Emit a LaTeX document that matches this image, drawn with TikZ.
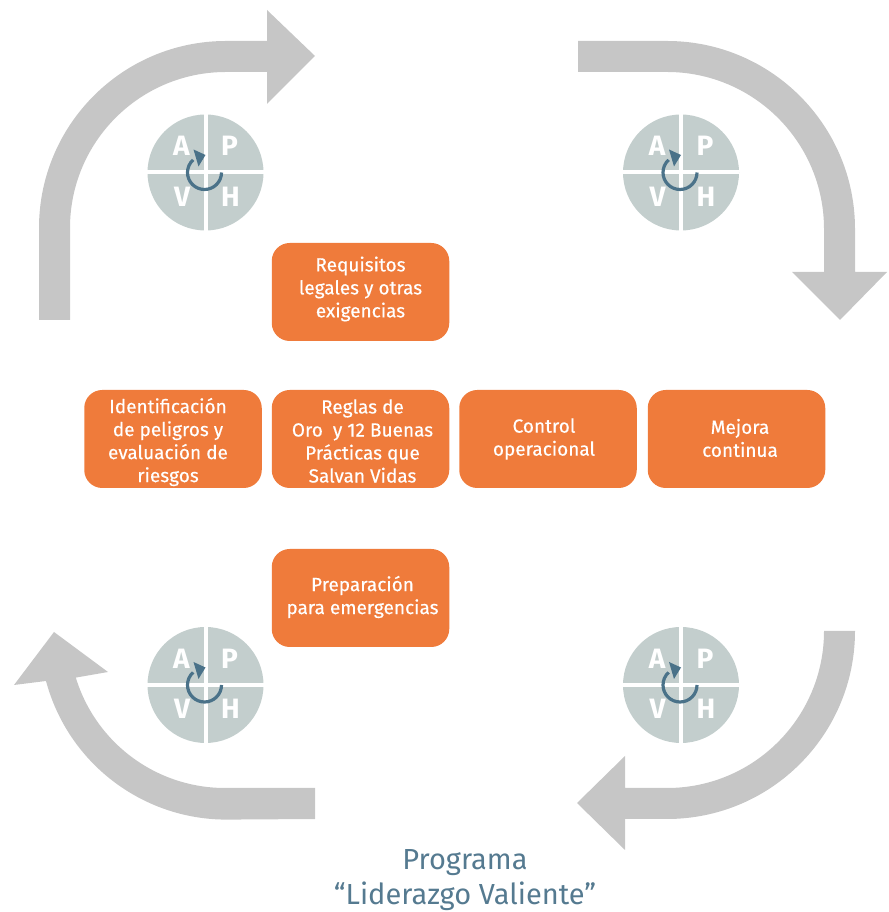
\documentclass[tikz,border=0pt]{standalone}
\usepackage{fontspec}
\setmainfont{Fira Sans}
\newfontfamily\boxfont{Fira Sans}[FakeBold=0.35]
\definecolor{arrowgrey}{HTML}{C6C6C6}
\definecolor{boxorange}{HTML}{EF7B3B}
\definecolor{discgrey}{HTML}{C3CECD}
\definecolor{loopblue}{HTML}{4A7289}
\definecolor{titleblue}{HTML}{557A90}
\tikzset{
  bigarrow/.style={fill=arrowgrey,draw=none},
  orangebox/.style={fill=boxorange,draw=none,rounded corners=18pt,minimum width=177.5pt,minimum height=98pt,inner sep=0pt},
  boxtext/.style={inner sep=0pt,text=white,align=center,font=\boxfont\fontsize{19}{23}\selectfont},
  disc/.style={circle,fill=discgrey,draw=none,minimum size=116pt,inner sep=0pt},
  phvaletter/.style={text=white,font=\fontsize{28}{28}\selectfont\bfseries,inner sep=0pt},
  titletext/.style={text=titleblue,align=center,font=\fontsize{29}{35.5}\selectfont}
}
\newcommand{\phva}[3]{%
  \node[disc] (#1) at (#2,#3) {};
  \fill[white] ([xshift=-2pt]#1.north) rectangle ([xshift=2pt]#1.south);
  \fill[white] ([yshift=2pt]#1.west) rectangle ([yshift=-2pt]#1.east);
  \node[phvaletter] (#1A) at (#2-24,#3+26.5) {A};
  \node[phvaletter] (#1P) at (#2+24,#3+26.5) {P};
  \node[phvaletter] (#1V) at (#2-23.5,#3-24) {V};
  \node[phvaletter] (#1H) at (#2+25,#3-24) {H};
  \draw[loopblue,line width=3.2pt] (#2+16,#3) arc[start angle=0,end angle=-228,radius=17pt];
  \fill[loopblue] (#2-12,#3+23) -- (#2,#3+17.5) -- (#2-7,#3+6) -- cycle;
}
\newcommand{\obox}[6]{%
  \node[orangebox] (#1) at (#2,#3) {};
  \node[boxtext] (#1t) at (#2+#4,#3+#5) {#6};
}
\begin{document}
\begin{tikzpicture}[x=1pt,y=1pt]
\useasboundingbox (0,0) rectangle (888,912);
% top-left arrow
\fill[bigarrow] (39,592) -- (39,684) arc[start angle=180,end angle=90,radius=187pt] -- (267,871) -- (267,902) -- (315,856) -- (267,808) -- (267,840) -- (226,840) arc[start angle=90,end angle=180,radius=156pt] -- (70,592) -- cycle;
% top-right arrow
\fill[bigarrow] (578,871) -- (667,871) arc[start angle=90,end angle=0,radius=188pt] -- (855,640) -- (887,640) -- (840,592) -- (792,640) -- (824,640) -- (824,683) arc[start angle=0,end angle=90,radius=157pt] -- (578,840) -- cycle;
% bottom-right arrow
\fill[bigarrow] (855,281) arc[start angle=0,end angle=-90,radius=188pt] -- (625,93) -- (625,62) -- (577,109) -- (625,156) -- (625,124) -- (667,124) arc[start angle=-90,end angle=0,radius=157pt] -- cycle;
% bottom-left arrow
\fill[bigarrow] (315,124) -- (225,124) arc[start angle=-90,end angle=-163,radius=156pt] -- (108,240) -- (54,280) -- (14,227) -- (46,231) arc[start angle=-165,end angle=-90,radius=187pt] -- (315,93) -- cycle;
% PHVA discs
\phva{d1}{205.5}{739.5}
\phva{d2}{681}{739.5}
\phva{d3}{205.5}{227}
\phva{d4}{681}{227}
% boxes
\obox{req}{360.5}{620}{0}{3}{Requisitos\\legales y otras\\exigencias}
\obox{ide}{173}{473}{-5}{-3}{Identificación\\de peligros y\\evaluación de\\riesgos}
\obox{reg}{360.5}{473}{2}{-2}{Reglas de\\Oro\ \ y 12 Buenas\\Prácticas que\\Salvan Vidas}
\obox{con}{548}{473}{-4}{0}{Control\\operacional}
\obox{mej}{736.5}{473}{3.5}{1}{Mejora\\continua}
\obox{pre}{360.5}{314}{2}{1}{Preparación\\para emergencias}
\node[titletext] (tit) at (465,32) {Programa\\“Liderazgo Valiente”};
\end{tikzpicture}
\end{document}
